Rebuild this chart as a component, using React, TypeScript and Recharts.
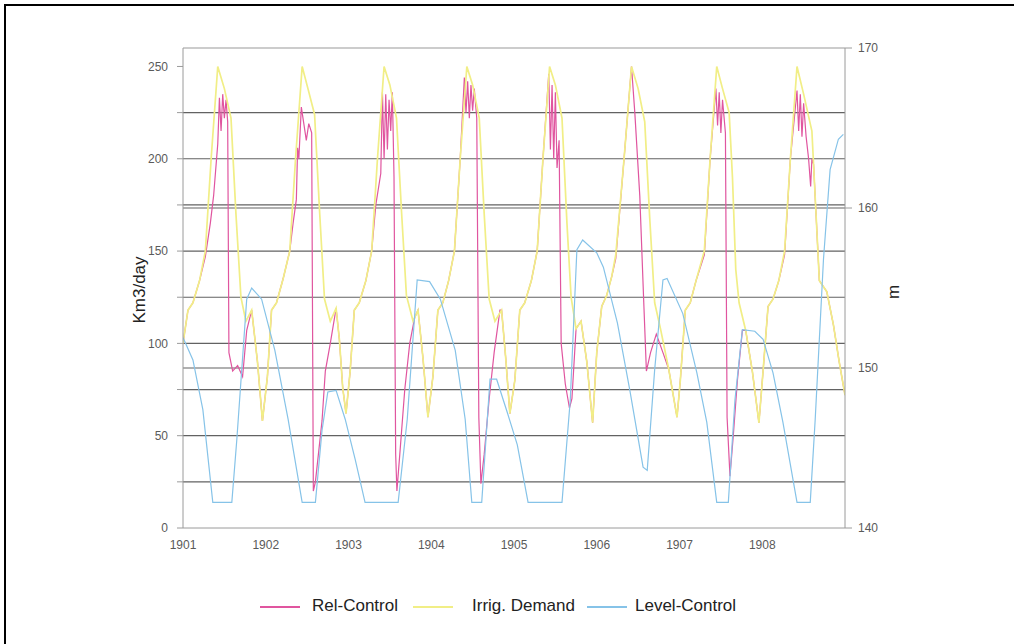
import React from "react";
import { LineChart, Line, XAxis, YAxis, ReferenceLine } from "recharts";

type Pt = [number, number];

// axis ticks and grid
const years = [1901, 1902, 1903, 1904, 1905, 1906, 1907, 1908];
const flowTicks = [0, 25, 50, 75, 100, 125, 150, 175, 200, 225, 250];
const flowGrid = [25, 50, 75, 100, 125, 150, 175, 200, 225];
const levelTicks = [140, 150, 160, 170];
const levelGrid = [150, 160, 170];

// Km3/day, [year, value]
const irrigDemand: Pt[] = [
  [1901.0, 100], [1901.06, 118], [1901.12, 122], [1901.2, 134], [1901.27, 150], [1901.34, 200], [1901.42, 250], [1901.5, 238], [1901.58, 222], [1901.64, 170], [1901.7, 125], [1901.76, 112], [1901.83, 118], [1901.9, 90], [1901.96, 58],
  [1902.02, 82], [1902.07, 118], [1902.13, 122], [1902.21, 135], [1902.29, 150], [1902.36, 200], [1902.44, 250], [1902.51, 238], [1902.59, 224], [1902.65, 172], [1902.71, 124], [1902.78, 112], [1902.85, 119], [1902.89, 102], [1902.93, 76], [1902.97, 62],
  [1903.02, 85], [1903.07, 118], [1903.13, 122], [1903.21, 134], [1903.28, 150], [1903.35, 200], [1903.43, 250], [1903.5, 240], [1903.58, 222], [1903.64, 172], [1903.7, 126], [1903.78, 112], [1903.84, 118], [1903.9, 92], [1903.96, 60],
  [1904.02, 82], [1904.08, 118], [1904.14, 122], [1904.21, 134], [1904.28, 150], [1904.35, 200], [1904.43, 250], [1904.5, 240], [1904.58, 222], [1904.64, 170], [1904.7, 124], [1904.77, 112], [1904.85, 118], [1904.9, 92], [1904.95, 62],
  [1905.01, 80], [1905.07, 118], [1905.13, 122], [1905.21, 134], [1905.28, 150], [1905.35, 200], [1905.43, 250], [1905.5, 240], [1905.58, 222], [1905.64, 165], [1905.69, 125], [1905.75, 108], [1905.81, 112], [1905.88, 90], [1905.95, 57],
  [1906.0, 95], [1906.06, 120], [1906.12, 126], [1906.18, 136], [1906.23, 148], [1906.33, 200], [1906.42, 250], [1906.5, 238], [1906.58, 220], [1906.64, 168], [1906.7, 122], [1906.77, 108], [1906.87, 86], [1906.97, 60],
  [1907.01, 80], [1907.07, 118], [1907.13, 122], [1907.2, 134], [1907.3, 150], [1907.37, 200], [1907.45, 250], [1907.52, 238], [1907.6, 225], [1907.64, 190], [1907.68, 140], [1907.72, 122], [1907.8, 107], [1907.88, 85], [1907.96, 57],
  [1908.01, 85], [1908.07, 120], [1908.13, 124], [1908.2, 134], [1908.27, 150], [1908.34, 200], [1908.42, 250], [1908.5, 235], [1908.6, 215], [1908.69, 134], [1908.78, 128], [1908.86, 110], [1908.93, 90], [1909.0, 72],
];

// Km3/day, [year, value]
const relControl: Pt[] = [
  [1901.0, 100], [1901.06, 118], [1901.12, 122], [1901.2, 134], [1901.27, 147], [1901.33, 165], [1901.37, 180], [1901.42, 208], [1901.44, 233], [1901.46, 215], [1901.48, 235], [1901.5, 222], [1901.52, 232], [1901.54, 220], [1901.555, 95], [1901.6, 85], [1901.66, 88], [1901.72, 82], [1901.77, 107], [1901.83, 118], [1901.9, 90], [1901.96, 58],
  [1902.02, 82], [1902.07, 118], [1902.13, 122], [1902.21, 135], [1902.29, 150], [1902.33, 165], [1902.37, 178], [1902.385, 206], [1902.4, 200], [1902.43, 228], [1902.46, 219], [1902.49, 210], [1902.52, 219], [1902.555, 214], [1902.575, 20], [1902.6, 25], [1902.68, 58], [1902.72, 85], [1902.78, 100], [1902.85, 119], [1902.89, 102], [1902.93, 76], [1902.97, 62],
  [1903.02, 85], [1903.07, 118], [1903.13, 122], [1903.21, 134], [1903.28, 150], [1903.33, 175], [1903.39, 192], [1903.41, 236], [1903.43, 200], [1903.45, 235], [1903.47, 205], [1903.49, 232], [1903.51, 215], [1903.53, 236], [1903.55, 190], [1903.57, 40], [1903.585, 20], [1903.62, 40], [1903.68, 75], [1903.74, 100], [1903.8, 114], [1903.84, 118], [1903.9, 92], [1903.96, 60],
  [1904.02, 82], [1904.08, 118], [1904.14, 122], [1904.21, 134], [1904.28, 150], [1904.35, 200], [1904.4, 244], [1904.42, 225], [1904.44, 242], [1904.46, 222], [1904.48, 240], [1904.5, 226], [1904.52, 238], [1904.55, 222], [1904.575, 60], [1904.6, 24], [1904.64, 40], [1904.7, 70], [1904.76, 95], [1904.83, 118], [1904.85, 118], [1904.9, 92], [1904.95, 62],
  [1905.01, 80], [1905.07, 118], [1905.13, 122], [1905.21, 134], [1905.28, 150], [1905.35, 200], [1905.42, 246], [1905.44, 205], [1905.46, 240], [1905.48, 200], [1905.5, 236], [1905.52, 195], [1905.545, 210], [1905.57, 100], [1905.62, 78], [1905.67, 65], [1905.7, 70], [1905.75, 108], [1905.81, 112], [1905.88, 90], [1905.95, 57],
  [1906.0, 95], [1906.06, 120], [1906.12, 126], [1906.18, 136], [1906.23, 146], [1906.33, 200], [1906.42, 250], [1906.46, 225], [1906.52, 180], [1906.57, 120], [1906.6, 85], [1906.65, 95], [1906.72, 105], [1906.8, 95], [1906.87, 86], [1906.97, 60],
  [1907.01, 80], [1907.07, 118], [1907.13, 122], [1907.2, 134], [1907.3, 148], [1907.37, 200], [1907.44, 238], [1907.46, 218], [1907.48, 236], [1907.5, 214], [1907.52, 232], [1907.555, 214], [1907.575, 60], [1907.61, 28], [1907.65, 50], [1907.7, 80], [1907.76, 107], [1907.8, 107], [1907.88, 85], [1907.96, 57],
  [1908.01, 85], [1908.07, 120], [1908.13, 124], [1908.2, 134], [1908.27, 148], [1908.34, 200], [1908.42, 237], [1908.44, 215], [1908.46, 235], [1908.48, 212], [1908.5, 230], [1908.53, 212], [1908.56, 200], [1908.585, 185], [1908.6, 200], [1908.62, 197], [1908.69, 134], [1908.78, 128], [1908.86, 110], [1908.93, 90], [1909.0, 72],
];

// m, [year, value]
const levelControl: Pt[] = [
  [1901.0, 151.9], [1901.12, 150.5], [1901.24, 147.4], [1901.36, 141.6], [1901.59, 141.6], [1901.65, 145.5], [1901.77, 154.3], [1901.83, 155.0], [1901.95, 154.3],
  [1902.11, 151.1], [1902.27, 146.8], [1902.44, 141.6], [1902.6, 141.6], [1902.68, 146.1], [1902.75, 148.5], [1902.85, 148.6], [1902.96, 146.8],
  [1903.08, 144.3], [1903.2, 141.6], [1903.6, 141.6], [1903.71, 146.8], [1903.83, 155.5], [1903.98, 155.4],
  [1904.11, 154.3], [1904.29, 151.1], [1904.41, 146.8], [1904.49, 141.6], [1904.61, 141.6], [1904.71, 149.3], [1904.79, 149.3], [1904.92, 147.2],
  [1905.04, 145.2], [1905.17, 141.6], [1905.58, 141.6], [1905.68, 148.0], [1905.76, 157.4], [1905.83, 158.0],
  [1906.0, 157.2], [1906.08, 156.3], [1906.25, 152.8], [1906.4, 148.6], [1906.56, 143.8], [1906.61, 143.6], [1906.7, 149.9], [1906.8, 155.5], [1906.85, 155.6],
  [1907.04, 153.4], [1907.21, 149.7], [1907.33, 146.6], [1907.45, 141.6], [1907.59, 141.6], [1907.67, 148.0], [1907.76, 152.4], [1907.91, 152.3],
  [1908.01, 151.8], [1908.13, 149.7], [1908.25, 146.6], [1908.42, 141.6], [1908.58, 141.6], [1908.64, 146.8], [1908.74, 156.8], [1908.82, 162.4], [1908.92, 164.3], [1908.98, 164.6],
];

const seriesNames = ["Rel-Control", "Irrig. Demand", "Level-Control"];

const colors = {
  rel: "#e0559f",
  demand: "#f1ee86",
  level: "#86c3e8",
  grid: "#626262",
  axis: "#9a9a9a",
  tick: "#5a5a5a",
};

const toRows = (pts: Pt[]) => pts.map(([t, v]) => ({ t, v }));

const font = "'Liberation Sans', Arial, sans-serif";

function LegendRow() {
  const items = [
    { name: seriesNames[0], color: colors.rel, line: 260, text: 312 },
    { name: seriesNames[1], color: colors.demand, line: 413, text: 472 },
    { name: seriesNames[2], color: colors.level, line: 587, text: 635 },
  ];
  return (
    <>
      {items.map((it) => (
        <React.Fragment key={it.name}>
          <div
            style={{
              position: "absolute",
              left: it.line,
              top: 606,
              width: 40,
              height: 2,
              background: it.color,
            }}
          />
          <div
            style={{
              position: "absolute",
              left: it.text,
              top: 596,
              fontFamily: font,
              fontSize: 17,
              lineHeight: "20px",
              color: "#222",
              whiteSpace: "nowrap",
            }}
          >
            {it.name}
          </div>
        </React.Fragment>
      ))}
    </>
  );
}

export default function App() {
  return (
    <div style={{ position: "absolute", left: 0, top: 0, width: 1014, height: 644, background: "#fff", overflow: "hidden" }}>
      <div
        style={{
          position: "absolute",
          left: 4,
          top: 4,
          width: 1020,
          height: 700,
          borderTop: "2px solid #000",
          borderLeft: "2px solid #000",
        }}
      />
      <div style={{ position: "absolute", left: 0, top: 0 }}>
        <LineChart
          width={1014}
          height={644}
          margin={{ top: 48, right: 109, bottom: 86, left: 123 }}
          style={{ fontFamily: font }}
        >
          <XAxis
            xAxisId={0}
            dataKey="t"
            type="number"
            domain={[1901, 1909]}
            ticks={years}
            height={30}
            allowDataOverflow
            tickLine={false}
            tickMargin={6}
            stroke={colors.axis}
            tick={{ fill: colors.tick, fontSize: 12 }}
          />
          <YAxis
            yAxisId="left"
            orientation="left"
            width={60}
            domain={[0, 260]}
            ticks={flowTicks}
            interval={0}
            allowDataOverflow
            tickSize={6}
            tickMargin={9}
            tickFormatter={(v: number) => (v % 50 === 0 ? String(v) : "")}
            stroke={colors.axis}
            tick={{ fill: colors.tick, fontSize: 12 }}
          />
          <YAxis
            yAxisId="right"
            orientation="right"
            width={60}
            domain={[140, 170]}
            ticks={levelTicks}
            interval={0}
            allowDataOverflow
            tickSize={7}
            tickMargin={6}
            stroke={colors.axis}
            tick={{ fill: colors.tick, fontSize: 12 }}
          />
          {flowGrid.map((v) => (
            <ReferenceLine key={"f" + v} yAxisId="left" y={v} stroke={colors.grid} strokeWidth={1.2} />
          ))}
          {levelGrid.map((v) => (
            <ReferenceLine
              key={"l" + v}
              yAxisId="right"
              y={v}
              stroke={v === 170 ? colors.axis : colors.grid}
              strokeWidth={1.2}
            />
          ))}
          <Line
            yAxisId="left"
            data={toRows(relControl)}
            dataKey="v"
            name={seriesNames[0]}
            type="linear"
            stroke={colors.rel}
            strokeWidth={1.2}
            dot={false}
            activeDot={false}
            isAnimationActive={false}
          />
          <Line
            yAxisId="left"
            data={toRows(irrigDemand)}
            dataKey="v"
            name={seriesNames[1]}
            type="linear"
            stroke={colors.demand}
            strokeWidth={1.7}
            dot={false}
            activeDot={false}
            isAnimationActive={false}
          />
          <Line
            yAxisId="right"
            data={toRows(levelControl)}
            dataKey="v"
            name={seriesNames[2]}
            type="linear"
            stroke={colors.level}
            strokeWidth={1.2}
            dot={false}
            activeDot={false}
            isAnimationActive={false}
          />
        </LineChart>
      </div>
      <svg
        width={1014}
        height={644}
        style={{ position: "absolute", left: 0, top: 0, pointerEvents: "none" }}
      >
        <text
          x={139}
          y={290}
          transform="rotate(-90 139 290)"
          textAnchor="middle"
          dominantBaseline="central"
          fontFamily={font}
          fontSize={17}
          fill="#222"
        >
          Km3/day
        </text>
        <text
          x={893}
          y={292}
          transform="rotate(-90 893 292)"
          textAnchor="middle"
          dominantBaseline="central"
          fontFamily={font}
          fontSize={17}
          fill="#222"
        >
          m
        </text>
      </svg>
      <LegendRow />
    </div>
  );
}
